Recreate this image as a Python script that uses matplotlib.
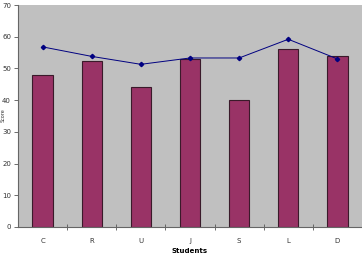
import matplotlib
matplotlib.use("Agg")
import matplotlib.pyplot as plt
import numpy as np

categories = ["C", "R", "U", "J", "S", "L", "D"]
bar_values = [48, 52.5, 44, 53, 40, 56, 54]
line_values = [56.8, 53.8, 51.3, 53.3, 53.3, 59.2, 53.0]

fig = plt.figure(figsize=(3.62, 2.59), dpi=100)
ax = fig.add_axes([0.0497, 0.1236, 0.9503, 0.857])
ax.set_facecolor("#C0C0C0")

x = np.arange(len(categories))
ax.bar(x, bar_values, width=0.41, color="#993366", edgecolor="#3a1a2a", linewidth=0.8, zorder=2)
ax.plot(x, line_values, color="#000080", linewidth=0.7, marker="D", markersize=2.2, zorder=3)

ax.set_xlim(-0.5, len(categories) - 0.5)
ax.set_ylim(0, 70)
ax.set_yticks(range(0, 71, 10))
ax.set_xticks(x)
ax.set_xticklabels(categories)
ax.set_xticks(np.arange(0.5, len(categories) - 1, 1), minor=True)
ax.tick_params(axis="x", which="major", length=0, labelsize=5, pad=8, colors="#333333")
ax.tick_params(axis="x", which="minor", length=4, direction="inout", width=0.6, color="#555555")
ax.tick_params(axis="y", labelsize=5, length=3, width=0.6, color="#555555", labelcolor="#333333", pad=2)

for s in ["top", "right"]:
    ax.spines[s].set_visible(False)
for s in ["left", "bottom"]:
    ax.spines[s].set_color("#666666")
    ax.spines[s].set_linewidth(0.8)

ax.set_xlabel("Students", fontsize=5, fontweight="bold", labelpad=3)
fig.text(0.001, 0.555, "Score", fontsize=3.5, rotation=90, va="center", ha="left", color="#333333")

fig.savefig("out.png", dpi=100)
